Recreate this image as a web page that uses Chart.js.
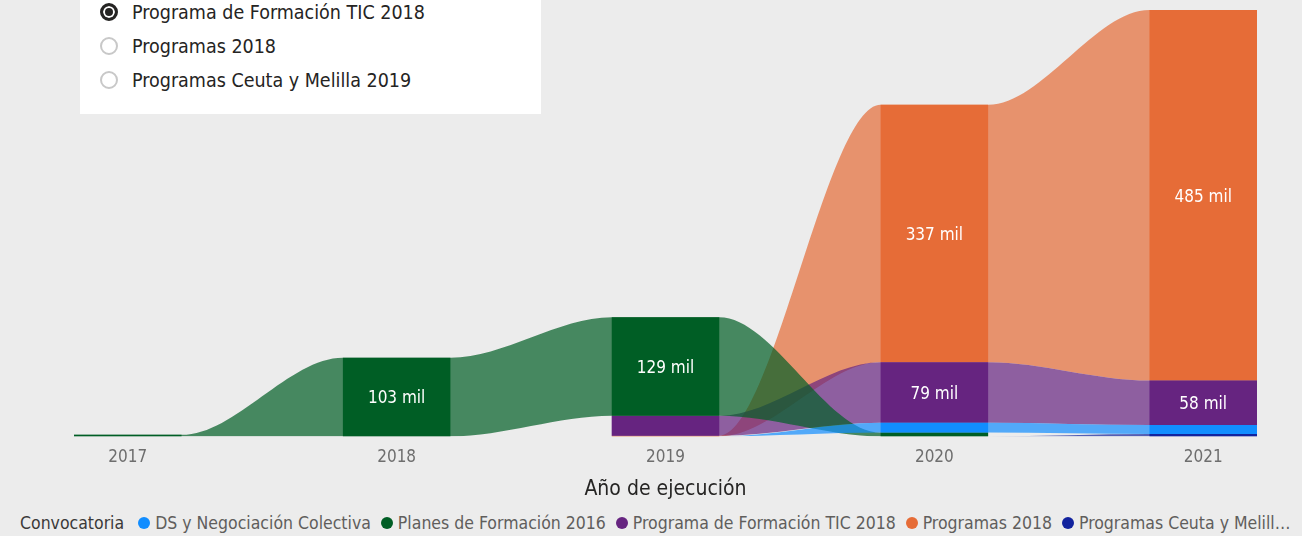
<!DOCTYPE html>
<html>
<head>
<meta charset="utf-8">
<script src="https://cdn.jsdelivr.net/npm/chart.js@4/dist/chart.umd.min.js"></script>
<style>
html,body{margin:0;padding:0;background:#ECECEC;}
body{width:1302px;height:536px;position:relative;overflow:hidden;font-family:'DejaVu Sans Condensed','DejaVu Sans',sans-serif;}
#wrap{position:absolute;left:0;top:0;width:1302px;height:506px;}
#slicer{position:absolute;left:80px;top:0;width:461px;height:114px;background:#fff;}
.opt{position:absolute;left:20px;height:24px;display:flex;align-items:center;font-size:19.5px;color:#252423;white-space:nowrap;}
.radio{width:18px;height:18px;border-radius:50%;box-sizing:border-box;border:2px solid #c8c8c8;background:#fff;margin-right:14px;flex:none;}
.radio.on{border:3px solid #252423;background:#252423;box-shadow:inset 0 0 0 2px #fff;}
#legend{position:absolute;left:20px;top:512px;height:22px;width:1278px;display:flex;align-items:center;font-size:17.5px;color:#605E5C;white-space:nowrap;overflow:hidden;}
#legend .ttl{color:#3B3A39;margin-right:14px;flex:none;}
#legend .item{display:flex;align-items:center;margin-right:10px;flex:none;}
#legend .dot{width:12px;height:12px;border-radius:50%;margin-right:5px;flex:none;}
#legend .item:last-child{flex:1 1 auto;min-width:0;overflow:hidden;margin-right:0;}
#legend .item:last-child span:last-child{overflow:hidden;text-overflow:ellipsis;}
</style>
</head>
<body>
<div id="wrap"><canvas id="c"></canvas></div>
<div id="slicer"></div>
<div id="legend"><span class="ttl">Convocatoria</span></div>
<script>
/* ---------- data ---------- */
const years=[2017,2018,2019,2020,2021];
const seriesNames=['DS y Negociación Colectiva','Planes de Formación 2016','Programa de Formación TIC 2018','Programas 2018','Programas Ceuta y Melilla 2019'];
const dsNegociacion=[null,null,0,13,12];     // mil
const planes2016   =[2,103,129,5,null];
const tic2018      =[null,null,26,79,58];
const programas2018=[null,null,1,337,485];
const ceutaMelilla =[null,null,null,0,3];
const seriesColors =['#118DFF','#005E25','#662480','#E66C37','#12239E'];
const slicerOptions=['Programa de Formación TIC 2018','Programas 2018','Programas Ceuta y Melilla 2019'];
const slicerSelected=0;

const values=[dsNegociacion,planes2016,tic2018,programas2018,ceutaMelilla];
const BAR_FRAC=0.4, HALF=BAR_FRAC/2;

/* ---------- ribbon stacking: smallest at bottom, per year ---------- */
const lo=values.map(()=>[]), hi=values.map(()=>[]);
years.forEach((y,i)=>{
  const order=values.map((_,s)=>s).filter(s=>values[s][i]!=null).sort((a,b)=>values[a][i]-values[b][i]);
  let acc=0;
  order.forEach(s=>{lo[s][i]=acc;acc+=values[s][i];hi[s][i]=acc;});
});

function alpha(hex,a){const n=parseInt(hex.slice(1),16);return `rgba(${n>>16},${(n>>8)&255},${n&255},${a})`;}
function edgePts(s,arr){
  const pts=[];
  years.forEach((y,i)=>{
    if(values[s][i]==null){pts.push({x:y,y:null});return;}
    pts.push({x:y-HALF,y:arr[s][i]},{x:y+HALF,y:arr[s][i]});
  });
  return pts;
}

const datasets=[];
values.forEach((v,s)=>{
  datasets.push({type:'line',label:seriesNames[s]+' top',data:edgePts(s,hi),fill:'+1',
    backgroundColor:alpha(seriesColors[s],0.7),borderColor:'rgba(0,0,0,0)',borderWidth:0,
    pointRadius:0,cubicInterpolationMode:'monotone',order:1});
  datasets.push({type:'line',label:seriesNames[s]+' bottom',data:edgePts(s,lo),fill:false,
    borderColor:'rgba(0,0,0,0)',borderWidth:0,pointRadius:0,cubicInterpolationMode:'monotone',order:1});
});
values.forEach((v,s)=>{
  datasets.push({type:'bar',label:seriesNames[s],
    data:years.map((y,i)=>v[i]==null?null:{x:y,y:[lo[s][i],hi[s][i]],v:v[i]}).filter(Boolean),
    backgroundColor:seriesColors[s],grouped:false,categoryPercentage:BAR_FRAC,barPercentage:1,order:0});
});

/* ---------- labels in bars ---------- */
const barLabels={id:'barLabels',afterDatasetsDraw(chart){
  const ctx=chart.ctx;ctx.save();
  ctx.font='17px "DejaVu Sans Condensed"';ctx.fillStyle='#fff';ctx.textAlign='center';ctx.textBaseline='middle';
  chart.data.datasets.forEach((ds,di)=>{
    if(ds.type!=='bar')return;
    chart.getDatasetMeta(di).data.forEach((el,j)=>{
      const p=el.getProps(['x','y','base'],true);
      if(Math.abs(p.base-p.y)<30)return;
      ctx.fillText(Math.round(ds.data[j].v)+' mil',p.x,(p.y+p.base)/2+2);
    });
  });
  ctx.restore();
}};

new Chart(document.getElementById('c'),{
  type:'bar',
  data:{datasets},
  options:{
    responsive:true,maintainAspectRatio:false,animation:false,
    layout:{padding:{left:74,right:45,top:0,bottom:0}},
    plugins:{legend:{display:false},tooltip:{enabled:false}},
    scales:{
      x:{type:'linear',offset:false,min:years[0]-HALF,max:years[years.length-1]+HALF,
        grid:{display:false},border:{display:false},
        ticks:{stepSize:1,includeBounds:false,autoSkip:false,maxRotation:0,padding:3,color:'#6E6E6E',
          font:{size:17,family:'DejaVu Sans Condensed'},callback:v=>years.includes(v)?String(v):''},
        title:{display:true,text:'Año de ejecución',color:'#252423',font:{size:21,family:'DejaVu Sans Condensed'},padding:{top:6,bottom:4}}},
      y:{display:false,min:0,max:571}
    }
  },
  plugins:[barLabels]
});

/* ---------- slicer + legend ---------- */
const slicer=document.getElementById('slicer');
slicerOptions.forEach((t,i)=>{
  const d=document.createElement('div');d.className='opt';d.style.top=(i*34)+'px';
  d.innerHTML=`<span class="radio${i===slicerSelected?' on':''}"></span><span>${t}</span>`;
  slicer.appendChild(d);
});
const legend=document.getElementById('legend');
seriesNames.forEach((n,s)=>{
  const d=document.createElement('div');d.className='item';
  d.innerHTML=`<span class="dot" style="background:${seriesColors[s]}"></span><span>${n}</span>`;
  legend.appendChild(d);
});
</script>
</body>
</html>
